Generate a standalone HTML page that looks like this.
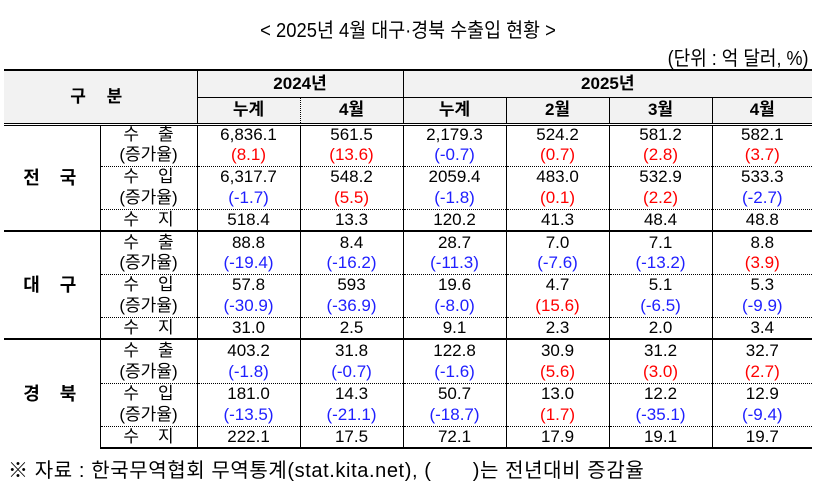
<!DOCTYPE html>
<html><head><meta charset="utf-8"><style>
body{margin:0;width:828px;height:483px;background:#fff;font-family:"Liberation Sans","Noto Sans CJK KR",sans-serif;color:#000;position:relative;overflow:hidden}
.title{position:absolute;left:0;width:816px;top:14px;text-align:center;font-size:20px;transform:scaleX(0.92)}
.unit{position:absolute;right:20px;top:42px;font-size:20px;transform:scaleX(0.9);transform-origin:right}
table{position:absolute;left:4px;top:69px;border-collapse:collapse;table-layout:fixed;width:808px;font-size:17px}
td{padding:0;text-align:center;line-height:18px;border-left:1px solid #000;white-space:nowrap;overflow:hidden}
td.nl{border-left:none}
thead td{background:#f2f2f2;font-weight:bold;font-size:17px}
thead tr:first-child td{border-top:2px solid #000}
.hb td{border-bottom:3px double #000}
.dl{border-left:1px dotted #000 !important}
.g{font-weight:bold;font-size:18px;letter-spacing:20px;padding-left:16px}
.gs td{border-top:2px solid #000}
.dt td.s{border-top:1px dotted #000}
.r{color:#f00}.b{color:#2020ff}
.last td{border-bottom:2px solid #000}
.foot{position:absolute;left:8px;top:454px;font-size:20px;letter-spacing:0.6px}
.k{white-space:pre}
</style></head><body>
<div class="title">&lt; 2025년 4월 대구·경북 수출입 현황 &gt;</div>
<div class="unit">(단위 : 억 달러, %)</div>
<table>
<colgroup><col style="width:96px"><col style="width:97px"><col style="width:103px"><col style="width:103px"><col style="width:103px"><col style="width:103px"><col style="width:103px"><col style="width:100px"></colgroup>
<thead>
<tr style="height:27px"><td colspan="2" rowspan="2" class="nl" style="letter-spacing:8px;border-bottom:3px double #000">구 분</td><td colspan="2" style="border-bottom:1px solid #000">2024년</td><td colspan="4" style="border-bottom:1px solid #000">2025년</td></tr>
<tr style="height:27px" class="hb"><td>누계</td><td class="dl">4월</td><td>누계</td><td>2월</td><td>3월</td><td>4월</td></tr>
</thead>
<tbody>
<tr style="height:21px"><td rowspan="5" class="g nl">전국</td><td class="s k">수    출</td><td>6,836.1</td><td>561.5</td><td>2,179.3</td><td>524.2</td><td>581.2</td><td>582.1</td></tr>
<tr style="height:21px"><td>(증가율)</td><td class="r">(8.1)</td><td class="r">(13.6)</td><td class="b">(-0.7)</td><td class="r">(0.7)</td><td class="r">(2.8)</td><td class="r">(3.7)</td></tr>
<tr style="height:22px" class="dt"><td class="s k">수    입</td><td class="s">6,317.7</td><td class="s">548.2</td><td class="s">2059.4</td><td class="s">483.0</td><td class="s">532.9</td><td class="s">533.3</td></tr>
<tr style="height:21px"><td>(증가율)</td><td class="b">(-1.7)</td><td class="r">(5.5)</td><td class="b">(-1.8)</td><td class="r">(0.1)</td><td class="r">(2.2)</td><td class="b">(-2.7)</td></tr>
<tr style="height:22px" class="dt"><td class="s k">수    지</td><td class="s">518.4</td><td class="s">13.3</td><td class="s">120.2</td><td class="s">41.3</td><td class="s">48.4</td><td class="s">48.8</td></tr>

<tr style="height:22px" class="gs"><td rowspan="5" class="g nl">대구</td><td class="k">수    출</td><td>88.8</td><td>8.4</td><td>28.7</td><td>7.0</td><td>7.1</td><td>8.8</td></tr>
<tr style="height:21px"><td>(증가율)</td><td class="b">(-19.4)</td><td class="b">(-16.2)</td><td class="b">(-11.3)</td><td class="b">(-7.6)</td><td class="b">(-13.2)</td><td class="r">(3.9)</td></tr>
<tr style="height:22px" class="dt"><td class="s k">수    입</td><td class="s">57.8</td><td class="s">593</td><td class="s">19.6</td><td class="s">4.7</td><td class="s">5.1</td><td class="s">5.3</td></tr>
<tr style="height:21px"><td>(증가율)</td><td class="b">(-30.9)</td><td class="b">(-36.9)</td><td class="b">(-8.0)</td><td class="r">(15.6)</td><td class="b">(-6.5)</td><td class="b">(-9.9)</td></tr>
<tr style="height:22px" class="dt"><td class="s k">수    지</td><td class="s">31.0</td><td class="s">2.5</td><td class="s">9.1</td><td class="s">2.3</td><td class="s">2.0</td><td class="s">3.4</td></tr>

<tr style="height:22px" class="gs"><td rowspan="5" class="g nl">경북</td><td class="k">수    출</td><td>403.2</td><td>31.8</td><td>122.8</td><td>30.9</td><td>31.2</td><td>32.7</td></tr>
<tr style="height:22px"><td>(증가율)</td><td class="b">(-1.8)</td><td class="b">(-0.7)</td><td class="b">(-1.6)</td><td class="r">(5.6)</td><td class="r">(3.0)</td><td class="r">(2.7)</td></tr>
<tr style="height:22px" class="dt"><td class="s k">수    입</td><td class="s">181.0</td><td class="s">14.3</td><td class="s">50.7</td><td class="s">13.0</td><td class="s">12.2</td><td class="s">12.9</td></tr>
<tr style="height:21px"><td>(증가율)</td><td class="b">(-13.5)</td><td class="b">(-21.1)</td><td class="b">(-18.7)</td><td class="r">(1.7)</td><td class="b">(-35.1)</td><td class="b">(-9.4)</td></tr>
<tr style="height:22px" class="dt last"><td class="s k">수    지</td><td class="s">222.1</td><td class="s">17.5</td><td class="s">72.1</td><td class="s">17.9</td><td class="s">19.1</td><td class="s">19.7</td></tr>
</tbody>
</table>
<div class="foot">※ 자료 : 한국무역협회 무역통계(stat.kita.net), (　　)는 전년대비 증감율</div>
</body></html>
